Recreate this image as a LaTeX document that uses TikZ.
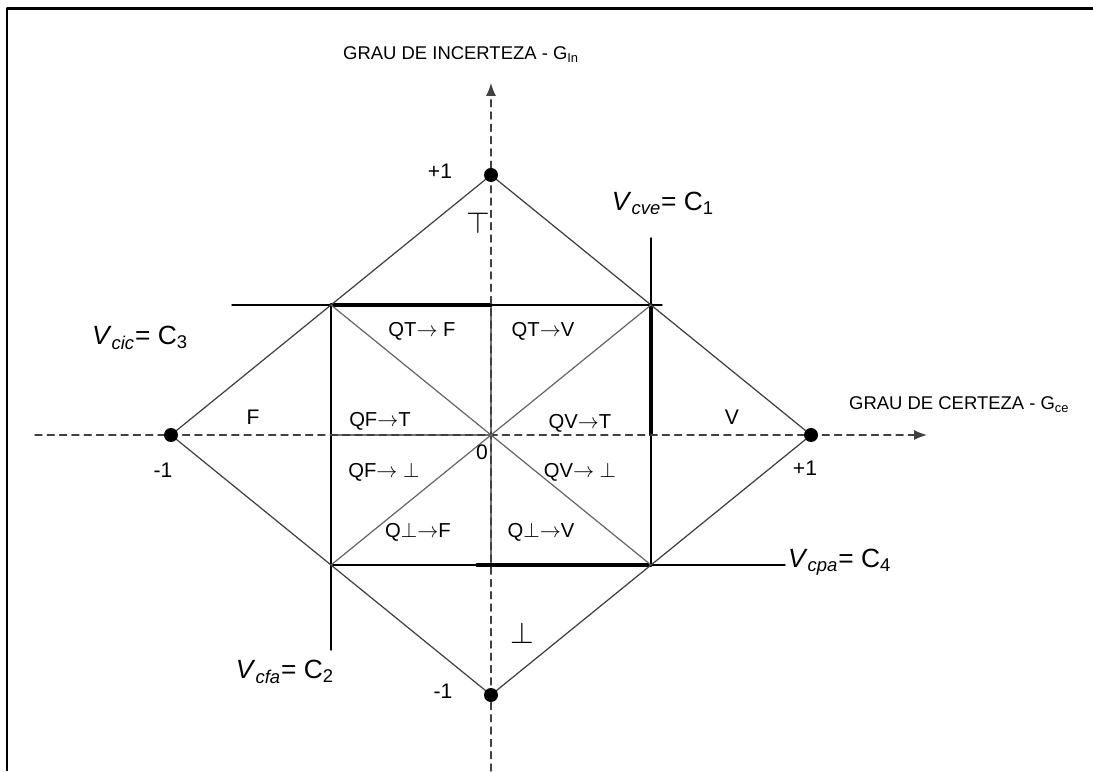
\documentclass[tikz,border=0pt]{standalone}
\usepackage{fontspec}
\setmainfont{Liberation Sans}
\usetikzlibrary{arrows.meta,positioning,calc}

\begin{document}
\begin{tikzpicture}[>={Latex[length=2.6mm,width=2mm]}, line cap=round, line join=round,
  axis/.style={dash pattern=on 4pt off 3pt, line width=0.8pt, black!75},
  edge/.style={line width=0.7pt, black!75},
  sq/.style={line width=0.8pt, black},
  sqthin/.style={line width=0.6pt, black!55},
  sqthick/.style={line width=1.9pt, black},
  quad/.style={font=\fontsize{11.5}{13}\selectfont},
  val/.style={font=\fontsize{12}{14}\selectfont},
  sym/.style={font=\fontsize{17}{19}\selectfont},
  eqn/.style={font=\fontsize{15}{17}\selectfont},
  ttl/.style={font=\fontsize{10.5}{12}\selectfont}]

\useasboundingbox (-9.82,-6.72) rectangle (12.04,8.7);

% frame
\draw[line width=1.7pt, line cap=butt] (-9.68,-6.72) -- (-9.68,8.52) -- (12.04,8.52);

% points of the lattice
\coordinate (O) at (0,0);
\coordinate (T) at (0,5.2);
\coordinate (B) at (0,-5.2);
\coordinate (L) at (-6.4,0);
\coordinate (R) at (6.4,0);
\coordinate (c1) at (3.2,2.6);
\coordinate (c2) at (-3.2,-2.6);
\coordinate (c3) at (-3.2,2.6);
\coordinate (c4) at (3.2,-2.6);

% control limits
\draw[sq] ($(c3)+(-1.98,0)$) -- ($(c1)+(0.22,0)$);
\draw[sq] ($(c1)+(0,1.34)$) -- (c4);
\draw[sq] (c3) -- ($(c2)+(0,-1.7)$);
\draw[sq] (c2) -- ($(c4)+(2.68,0)$);
\draw[sqthin] (c3 |- O) -- (O);
\draw[sqthin] (c3 -| O) -- (c2 -| O);
\draw[sqthick] (c3) -- (c3 -| O);
\draw[sqthick] (c1) -- (c1 |- O);
\draw[sqthick] ($(c2 -| O)+(-0.28,0)$) -- (c4);

% axes
\draw[axis,->] (-9.12,0) -- (8.72,0);
\draw[axis,->] (0,-6.72) -- (0,7.04);

% diamond and diagonals
\draw[edge] (L) -- (T) -- (R) -- (B) -- cycle;
\draw[edge, black!60] (c3) -- (c4);
\draw[edge, black!60] (c2) -- (c1);

% extreme points
\foreach \p in {T,B,L,R}
  \fill (\p) circle (0.14);

% quadrant labels
\foreach \nm/\x/\y/\txt in {qtf/-1.38/2.08/{QT$\rightarrow$ F}, qtv/1.04/2.08/{QT$\rightarrow$V},
    qft/-2.22/0.28/{QF$\rightarrow$T}, qvt/1.78/0.24/{QV$\rightarrow$T},
    qfb/-2.14/-0.74/{QF$\rightarrow$ $\bot$}, qvb/1.78/-0.74/{QV$\rightarrow$ $\bot$},
    qbf/-1.46/-1.94/{Q$\bot$$\rightarrow$F}, qbv/1.0/-1.94/{Q$\bot$$\rightarrow$V}}
  \node[quad] (\nm) at (\x,\y) {\txt};

% values on the axes
\node[val] (ptop) at (-1.02,5.28) {+1};
\node[val] (pbot) at (-0.96,-5.12) {-1};
\node[val] (pleft) at (-6.56,-0.7) {-1};
\node[val] (pright) at (6.28,-0.66) {+1};
\node[val] (zero) at (-0.18,-0.34) {0};
\node[val] (sF) at (-4.76,0.36) {F};
\node[val] (sV) at (4.82,0.36) {V};
\node[sym] (stop) at (-0.26,4.24) {$\top$};
\node[sym] (sbot) at (0.62,-3.96) {$\bot$};

% limit values
\node[eqn] (vcve) at (3.44,4.64) {\textit{V}\textsubscript{\textit{cve}}= C\textsubscript{1}};
\node[eqn] (vcic) at (-7.02,1.94) {\textit{V}\textsubscript{\textit{cic}}= C\textsubscript{3}};
\node[eqn] (vcfa) at (-4.12,-4.74) {\textit{V}\textsubscript{\textit{cfa}}= C\textsubscript{2}};
\node[eqn, anchor=west, inner sep=1pt] (vcpa) at (5.9,-2.54) {\textit{V}\textsubscript{\textit{cpa}}= C\textsubscript{4}};

% axis titles
\node[ttl, anchor=west] (gin) at (-3.08,7.6) {GRAU DE INCERTEZA - G\textsubscript{In}};
\node[ttl, anchor=west] (gce) at (7.04,0.6) {GRAU DE CERTEZA - G\textsubscript{ce}};

\end{tikzpicture}
\end{document}
